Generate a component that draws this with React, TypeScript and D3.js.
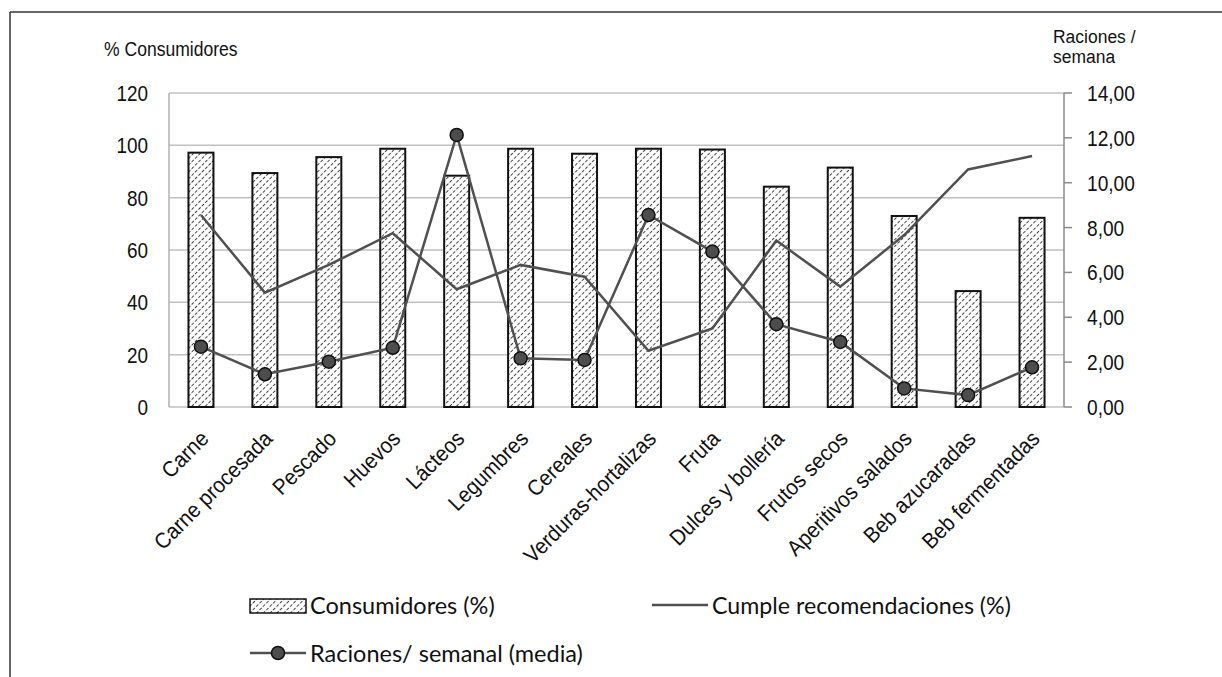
import React from "react";
import * as d3 from "d3";

const categories = [
  "Carne", "Carne procesada", "Pescado", "Huevos", "Lácteos", "Legumbres", "Cereales",
  "Verduras-hortalizas", "Fruta", "Dulces y bollería", "Frutos secos", "Aperitivos salados",
  "Beb azucaradas", "Beb fermentadas",
];
const consumidores = [97.2, 89.4, 95.5, 98.7, 88.4, 98.7, 96.8, 98.7, 98.4, 84.2, 91.5, 73.0, 44.3, 72.3];
const cumple = [73.4, 43.7, 54.3, 66.4, 45.0, 54.3, 49.8, 21.5, 30.0, 63.6, 46.0, 65.7, 90.8, 95.9];
const raciones = [2.69, 1.46, 2.02, 2.64, 12.13, 2.17, 2.1, 8.56, 6.93, 3.69, 2.9, 0.83, 0.53, 1.77];
const leftTicks = [0, 20, 40, 60, 80, 100, 120];
const rightTicks = [0, 2, 4, 6, 8, 10, 12, 14];

const W = 1222, H = 677;
const L = 169, R = 1064, T = 93, B = 407;
const AXF = "'Liberation Sans', Arial, sans-serif";
const LGF = "Lato, 'Open Sans', sans-serif";
const LINE = "#505050";

function T2(props: { x: number; y: number; sx: number; fs: number; anchor?: string; rot?: number; children: React.ReactNode; font?: string }) {
  const { x, y, sx, fs, anchor, rot, children, font } = props;
  return (
    <text transform={`translate(${x},${y})${rot ? ` rotate(${rot})` : ""} scale(${sx},1)`} textAnchor={anchor || "start"}
      fontFamily={font || AXF} fontSize={fs} fill="#111">{children}</text>
  );
}

export default function App() {
  const x = d3.scaleBand<string>().domain(categories).range([L, R]).padding(0);
  const yL = d3.scaleLinear().domain([0, 120]).range([B, T]);
  const yR = d3.scaleLinear().domain([0, 14]).range([B, T]);
  const bw = 25;
  const cx = (c: string) => (x(c) as number) + x.bandwidth() / 2;
  const cumpleLine = d3.line<number>().x((_, i) => cx(categories[i])).y((d) => yL(d));
  const racLine = d3.line<number>().x((_, i) => cx(categories[i])).y((d) => yR(d));
  const fmt = (v: number) => v.toFixed(2).replace(".", ",");

  return (
    <div style={{ position: "fixed", left: 0, top: 0 }}>
      <svg width={W} height={H} style={{ display: "block", background: "#fff" }}>
        <defs>
          <pattern id="hatch" patternUnits="userSpaceOnUse" width="4.8" height="4.8" patternTransform="rotate(45)">
            <rect width="4.8" height="4.8" fill="#fff" />
            <line x1="0" y1="0" x2="0" y2="4.8" stroke="#262626" strokeWidth="1.7" strokeDasharray="3.2,1.6" />
          </pattern>
        </defs>
        {/* outer border */}
        <line x1={10} y1={12} x2={W} y2={12} stroke="#333" strokeWidth={1.5} />
        <line x1={10} y1={12} x2={10} y2={H} stroke="#333" strokeWidth={1.5} />

        {/* gridlines */}
        {leftTicks.map((t) => (
          <line key={t} x1={L} x2={R} y1={yL(t)} y2={yL(t)} stroke="#c0c0c0" strokeWidth={1.5} />
        ))}
        <line x1={L} x2={L} y1={T} y2={B} stroke="#b0b0b0" strokeWidth={1.5} />
        {/* right axis */}
        <line x1={R} x2={R} y1={T} y2={B} stroke="#8a8a8a" strokeWidth={1.5} />
        {rightTicks.map((t) => (
          <g key={t}>
            <line x1={R} x2={R + 8} y1={yR(t)} y2={yR(t)} stroke="#8a8a8a" strokeWidth={1.5} />
            <T2 x={1087} y={yR(t) + 8} sx={0.87} fs={22}>{fmt(t)}</T2>
          </g>
        ))}
        {leftTicks.map((t) => (
          <T2 key={t} x={148} y={yL(t) + 8} sx={0.86} fs={22} anchor="end">{t}</T2>
        ))}
        <T2 x={104} y={56} sx={0.9} fs={19.5}>% Consumidores</T2>
        <T2 x={1053} y={43} sx={0.92} fs={19}>Raciones /</T2>
        <T2 x={1053} y={63} sx={0.92} fs={19}>semana</T2>

        {/* bars */}
        {categories.map((c, i) => (
          <rect key={c} x={cx(c) - bw / 2} y={yL(consumidores[i])} width={bw} height={B - yL(consumidores[i])}
            fill="url(#hatch)" stroke="#111" strokeWidth={2} />
        ))}

        {/* lines */}
        <path d={cumpleLine(cumple) as string} fill="none" stroke={LINE} strokeWidth={2.5} />
        <path d={racLine(raciones) as string} fill="none" stroke={LINE} strokeWidth={2.5} />
        {raciones.map((v, i) => (
          <circle key={i} cx={cx(categories[i])} cy={yR(v)} r={6.5} fill="#4d4d4d" stroke="#111" strokeWidth={1.5} />
        ))}

        {/* x labels */}
        {categories.map((c) => (
          <T2 key={c} x={cx(c) + 9} y={440} rot={-45} sx={0.93} fs={22} anchor="end">{c}</T2>
        ))}

        {/* legend */}
        <rect x={250} y={599} width={56} height={14} fill="url(#hatch)" stroke="#111" strokeWidth={1.5} />
        <T2 x={310} y={614} sx={1} fs={23.5} font={LGF}>Consumidores (%)</T2>
        <line x1={652} x2={708} y1={605} y2={605} stroke={LINE} strokeWidth={2.5} />
        <T2 x={712} y={614} sx={1} fs={23.2} font={LGF}>Cumple recomendaciones (%)</T2>
        <line x1={250} x2={306} y1={653} y2={653} stroke={LINE} strokeWidth={2.5} />
        <circle cx={278} cy={653} r={6.5} fill="#4d4d4d" stroke="#111" strokeWidth={1.5} />
        <T2 x={310} y={662} sx={1} fs={23.5} font={LGF}>Raciones/ semanal (media)</T2>
      </svg>
    </div>
  );
}
